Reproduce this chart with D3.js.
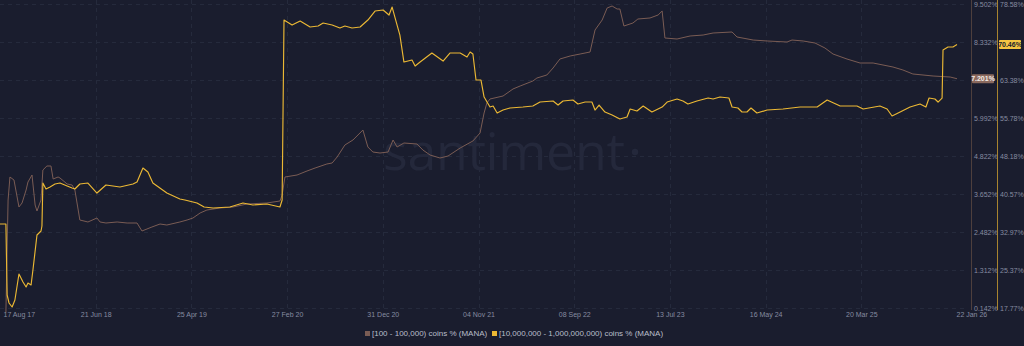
<!DOCTYPE html>
<html>
<head>
<meta charset="utf-8">
<script src="https://cdn.jsdelivr.net/npm/d3@7"></script>
<style>
  html, body { margin: 0; padding: 0; background: #1a1d2e; }
  svg { display: block; }
</style>
</head>
<body>
<svg id="chart" width="1024" height="346"></svg>
<script>
// ---------- DATA ----------
const brownName = "[100 - 100,000) coins % (MANA)";
const goldName = "[10,000,000 - 1,000,000,000) coins % (MANA)";

const brownSeries = [
  ["2017-09-05",0.0],["2017-09-12",3.467],["2017-09-18",4.175],["2017-10-01",4.083],["2017-10-17",3.252],
  ["2017-10-27",3.375],["2017-11-09",3.775],["2017-11-15",4.021],["2017-11-28",4.237],["2017-12-08",3.313],
  ["2017-12-14",3.129],["2017-12-27",3.467],["2018-01-02",4.391],["2018-01-15",4.514],["2018-01-28",4.514],
  ["2018-02-04",4.114],["2018-02-20",4.175],["2018-02-26",4.145],["2018-03-21",3.960],["2018-04-06",3.929],
  ["2018-04-15",3.775],["2018-05-01",2.851],["2018-05-27",2.790],["2018-06-25",2.913],["2018-07-05",2.790],
  ["2018-07-24",2.759],["2018-08-29",2.790],["2018-09-30",2.759],["2018-11-01",2.759],["2018-11-17",2.513],
  ["2018-12-19",2.636],["2019-01-14",2.728],["2019-02-05",2.697],["2019-03-19",2.790],["2019-04-11",2.851],
  ["2019-04-30",2.913],["2019-05-23",3.067],["2019-06-14",3.159],["2019-07-26",3.221],["2019-09-06",3.252],
  ["2019-10-21",3.344],["2019-12-24",3.375],["2020-02-04",3.436],["2020-02-11",3.621],["2020-02-20",4.175],
  ["2020-03-30",4.237],["2020-05-01",4.360],["2020-05-27",4.452],["2020-07-04",4.576],["2020-07-21",4.606],
  ["2020-08-06",4.791],["2020-08-31",5.161],["2020-09-26",5.315],["2020-10-28",5.622],["2020-11-13",5.099],
  ["2020-11-29",4.945],["2020-12-22",4.914],["2021-01-17",4.945],["2021-02-02",5.315],["2021-02-15",5.099],
  ["2021-03-09",5.222],["2021-04-20",5.191],["2021-05-09",5.007],["2021-06-01",4.853],["2021-07-03",4.760],
  ["2021-07-29",4.822],["2021-09-06",5.068],["2021-10-17",5.284],["2021-11-09",5.530],["2021-11-22",6.146],
  ["2021-12-01",6.454],["2021-12-11",6.577],["2022-01-22",6.669],["2022-02-23",6.885],["2022-03-18",6.977],
  ["2022-04-28",7.131],["2022-05-11",7.223],["2022-06-12",7.316],["2022-07-02",7.531],["2022-07-24",7.808],
  ["2022-08-26",7.901],["2022-09-27",7.962],["2022-10-29",8.024],["2022-11-14",8.701],["2022-12-07",9.009],
  ["2022-12-23",9.379],["2023-01-08",9.440],["2023-01-24",9.348],["2023-02-02",9.348],["2023-02-15",8.824],
  ["2023-03-16",8.917],["2023-04-01",9.040],["2023-05-10",9.071],["2023-06-05",9.163],["2023-06-18",9.286],
  ["2023-06-27",8.455],["2023-08-05",8.424],["2023-09-16",8.517],["2023-10-28",8.547],["2023-11-29",8.609],
  ["2024-01-29",8.640],["2024-02-14",8.486],["2024-04-06",8.393],["2024-05-21",8.363],["2024-07-24",8.332],
  ["2024-08-09",8.393],["2024-09-14",8.363],["2024-10-22",8.301],["2024-11-23",8.147],["2024-12-19",7.962],
  ["2025-02-02",7.808],["2025-03-16",7.685],["2025-04-27",7.685],["2025-06-30",7.562],["2025-08-01",7.470],
  ["2025-09-02",7.347],["2025-11-06",7.285],["2025-12-31",7.254],["2026-01-22",7.201]
];

const goldSeries = [
  ["2017-08-17",34.57],["2017-09-05",34.57],["2017-09-09",20.37],["2017-09-15",18.77],["2017-09-25",17.97],
  ["2017-10-04",19.37],["2017-10-17",24.57],["2017-10-30",22.97],["2017-11-09",21.97],["2017-11-15",22.77],
  ["2017-11-25",22.37],["2017-12-01",25.37],["2017-12-14",32.37],["2017-12-27",33.17],["2017-12-30",34.17],
  ["2018-01-02",42.77],["2018-01-12",41.57],["2018-01-25",41.97],["2018-02-10",42.57],["2018-02-26",42.77],
  ["2018-03-21",42.17],["2018-04-06",41.77],["2018-04-15",41.57],["2018-05-01",42.57],["2018-05-27",42.77],
  ["2018-06-25",40.77],["2018-07-24",42.37],["2018-09-07",41.97],["2018-10-19",42.57],["2018-11-01",42.97],
  ["2018-11-20",45.77],["2018-12-06",44.97],["2018-12-22",42.77],["2019-02-05",40.77],["2019-03-19",39.57],
  ["2019-04-04",39.37],["2019-05-13",38.77],["2019-06-05",37.97],["2019-07-04",37.77],["2019-08-27",37.97],
  ["2019-10-08",38.77],["2019-11-09",38.37],["2019-12-24",38.57],["2020-02-04",37.97],["2020-02-11",39.37],
  ["2020-02-17",75.37],["2020-03-14",74.37],["2020-04-09",75.17],["2020-05-11",73.97],["2020-06-06",74.17],
  ["2020-06-22",74.77],["2020-07-21",74.37],["2020-08-15",73.77],["2020-08-31",74.17],["2020-09-23",73.77],
  ["2020-10-19",73.97],["2020-11-13",75.37],["2020-12-06",77.17],["2021-01-01",77.37],["2021-01-20",76.37],
  ["2021-01-30",77.97],["2021-02-15",74.37],["2021-02-24",72.37],["2021-03-09",66.97],["2021-04-04",67.37],
  ["2021-04-14",66.17],["2021-04-30",66.97],["2021-06-07",68.77],["2021-07-13",67.17],["2021-08-04",68.77],
  ["2021-09-06",68.77],["2021-09-28",67.97],["2021-10-08",68.97],["2021-10-17",68.57],["2021-10-27",63.37],
  ["2021-11-12",63.37],["2021-11-22",59.97],["2021-12-11",57.97],["2021-12-21",58.17],["2022-01-03",56.77],
  ["2022-01-22",57.37],["2022-02-13",57.77],["2022-03-27",57.97],["2022-04-28",58.17],["2022-05-21",58.97],
  ["2022-07-02",59.17],["2022-07-18",58.37],["2022-08-03",59.17],["2022-09-04",59.37],["2022-09-20",58.57],
  ["2022-10-13",58.97],["2022-11-04",58.97],["2022-11-14",57.37],["2022-11-27",58.37],["2022-12-16",56.97],
  ["2023-01-08",56.37],["2023-02-02",55.57],["2023-02-25",55.97],["2023-03-07",57.57],["2023-03-29",57.17],
  ["2023-04-18",58.17],["2023-05-16",56.97],["2023-06-18",57.97],["2023-07-04",58.97],["2023-08-05",59.57],
  ["2023-08-24",59.17],["2023-09-09",58.57],["2023-10-08",59.17],["2023-11-13",59.77],["2023-11-29",59.57],
  ["2023-12-21",59.97],["2024-01-19",59.77],["2024-01-29",57.97],["2024-02-17",57.77],["2024-03-01",56.97],
  ["2024-03-17",56.97],["2024-03-30",57.77],["2024-04-18",56.77],["2024-05-21",57.37],["2024-07-11",57.57],
  ["2024-09-04",57.97],["2024-10-29",57.97],["2024-11-30",59.37],["2025-01-11",58.17],["2025-03-06",58.17],
  ["2025-03-26",57.57],["2025-05-19",58.17],["2025-06-11",57.57],["2025-06-27",56.17],["2025-07-23",56.97],
  ["2025-08-24",57.97],["2025-09-25",58.57],["2025-10-14",57.97],["2025-10-24",59.77],["2025-11-12",59.57],
  ["2025-11-22",58.97],["2025-12-05",59.77],["2025-12-08",69.37],["2025-12-24",69.97],["2026-01-09",69.97],
  ["2026-01-22",70.46]
];

const xTickDates = ["2017-08-17","2018-06-21","2019-04-25","2020-02-27","2020-12-31","2021-11-04",
                    "2022-09-08","2023-07-13","2024-05-16","2025-03-20","2026-01-22"];
const brownTicks = [0.142, 1.312, 2.482, 3.652, 4.822, 5.992, 7.162, 8.332, 9.502];
const goldTicks = [17.77, 25.37, 32.97, 40.57, 48.18, 55.78, 63.38, 70.98, 78.58];
const brownLast = 7.201;
const goldLast = 70.46;

// ---------- SETUP ----------
const W = 1024, H = 346;
const plotLeft = 0, plotRight = 968, plotTop = 0, plotBottom = 310;
const BG = "#1a1d2e";
const BROWN = "#7a5c54";
const GOLD = "#ebb834";
const TEXT = "#868ca0";
const GRID = "#252a3c";

const parse = d3.timeParse("%Y-%m-%d");
const fmtDate = d3.timeFormat("%d %b %y");

const svg = d3.select("#chart");
svg.append("rect").attr("width", W).attr("height", H).attr("fill", BG);

const x = d3.scaleTime()
  .domain([parse("2017-08-17"), parse("2026-01-22")])
  .range([0, 957]);
const yBrown = d3.scaleLinear().domain([0.142, 9.502]).range([308, 4]);
const yGold = d3.scaleLinear().domain([17.77, 78.58]).range([308, 4]);

// grid
const grid = svg.append("g");
grid.selectAll("line.h").data(brownTicks).join("line")
  .attr("x1", plotLeft).attr("x2", plotRight)
  .attr("y1", d => yBrown(d) + 0.5).attr("y2", d => yBrown(d) + 0.5)
  .attr("stroke", GRID).attr("stroke-width", 1).attr("stroke-dasharray", "4,4");
grid.selectAll("line.v").data(xTickDates.slice(1, -1)).join("line")
  .attr("x1", d => Math.round(x(parse(d))) + 0.5).attr("x2", d => Math.round(x(parse(d))) + 0.5)
  .attr("y1", plotTop).attr("y2", plotBottom)
  .attr("stroke", GRID).attr("stroke-width", 1).attr("stroke-dasharray", "4,4");

// watermark
svg.append("text")
  .attr("x", 383).attr("y", 170)
  .attr("font-family", "'Open Sans', sans-serif")
  .attr("font-size", 52)
  .attr("textLength", 242)
  .attr("fill", "#24283b")
  .text("santiment");
svg.append("circle").attr("cx", 635).attr("cy", 152).attr("r", 3.2).attr("fill", "#24283b");

// clip
svg.append("clipPath").attr("id", "clip")
  .append("rect").attr("x", plotLeft).attr("y", 0).attr("width", plotRight - plotLeft).attr("height", 320);

const lines = svg.append("g").attr("clip-path", "url(#clip)");
const brownLine = d3.line().x(d => x(parse(d[0]))).y(d => yBrown(d[1]));
const goldLine = d3.line().x(d => x(parse(d[0]))).y(d => yGold(d[1]));

lines.append("path").datum(brownSeries)
  .attr("d", brownLine).attr("fill", "none")
  .attr("stroke", BROWN).attr("stroke-width", 1).attr("stroke-linejoin", "round");
lines.append("path").datum(goldSeries)
  .attr("d", goldLine).attr("fill", "none")
  .attr("stroke", GOLD).attr("stroke-width", 1.15).attr("stroke-linejoin", "round");

// x axis
const xAxis = d3.axisBottom(x)
  .tickValues(xTickDates.map(parse))
  .tickFormat(fmtDate)
  .tickSize(0);
const gx = svg.append("g").attr("transform", "translate(0,309)").call(xAxis);
gx.select(".domain").remove();
gx.selectAll("text")
  .attr("fill", TEXT).attr("font-size", 7).attr("font-family", "'Liberation Sans', Arial, sans-serif")
  .attr("dy", "0.71em").attr("y", 3);
gx.selectAll(".tick text").each(function(d, i, n) {
  if (i === 0) d3.select(this).attr("text-anchor", "start").attr("x", 3);
  if (i === n.length - 1) d3.select(this).attr("text-anchor", "start").attr("x", -1);
});

// right axes (tick labels hidden where the last-value badge sits)
function rightAxis(scale, ticks, fmt, xpos, lineColor, lastVal) {
  const shown = ticks.filter(t => Math.abs(scale(t) - scale(lastVal)) > 8);
  const ax = d3.axisRight(scale).tickValues(shown).tickFormat(fmt).tickSize(0).tickPadding(3);
  const g = svg.append("g").attr("transform", `translate(${xpos},0)`).call(ax);
  g.select(".domain").remove();
  g.selectAll("text").attr("fill", TEXT).attr("font-size", 7)
    .attr("font-family", "'Liberation Sans', Arial, sans-serif");
  svg.append("line").attr("x1", xpos + 0.5).attr("x2", xpos + 0.5)
    .attr("y1", 0).attr("y2", 310).attr("stroke", lineColor).attr("stroke-width", 1);
  return g;
}
rightAxis(yBrown, brownTicks, d => d.toFixed(3) + "%", 971, "#4e3f3d", brownLast);
rightAxis(yGold, goldTicks, d => d.toFixed(2) + "%", 997, "#a8842f", goldLast);

// last value labels
function lastLabel(xpos, yv, txt, bg, fg) {
  const g = svg.append("g");
  g.append("rect").attr("x", xpos).attr("y", yv - 4.5).attr("width", 22).attr("height", 9)
    .attr("rx", 1).attr("fill", bg);
  g.append("text").attr("x", xpos + 11).attr("y", yv).attr("dy", "0.35em")
    .attr("text-anchor", "middle").attr("font-size", 7).attr("font-weight", "bold")
    .attr("font-family", "'Liberation Sans', Arial, sans-serif")
    .attr("fill", fg).text(txt);
}
lastLabel(972, yBrown(brownLast), brownLast.toFixed(3) + "%", "#8a695e", "#f2ece8");
lastLabel(999, yGold(goldLast), goldLast.toFixed(2) + "%", "#f5c542", "#1a1d2e");

// legend
const legend = svg.append("g").attr("font-family", "'Liberation Sans', Arial, sans-serif")
  .attr("font-size", 8).attr("fill", "#b9bdca");
legend.append("rect").attr("x", 365).attr("y", 331).attr("width", 5).attr("height", 5).attr("fill", BROWN);
legend.append("text").attr("x", 372).attr("y", 333.5).attr("dy", "0.35em").text(brownName);
legend.append("rect").attr("x", 492).attr("y", 331).attr("width", 5).attr("height", 5).attr("fill", GOLD);
legend.append("text").attr("x", 499).attr("y", 333.5).attr("dy", "0.35em").text(goldName);
</script>
</body>
</html>
